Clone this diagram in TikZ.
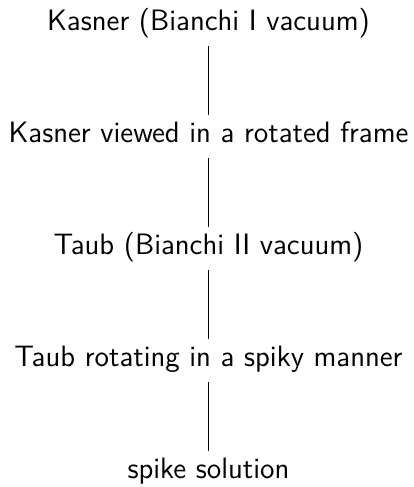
\documentclass[tikz,border=0pt]{standalone}
\begin{document}
\begin{tikzpicture}[x=0.5pt,y=0.5pt,
  lbl/.style={font=\sffamily\fontsize{14.75}{17}\selectfont, inner sep=0pt,
    text height=11pt, text depth=3.7pt, anchor=base},
  link/.style={draw, line width=0.45pt, shorten <=4.3pt, shorten >=2.5pt}]
\useasboundingbox (0,0) rectangle (413,-487);
% five stages, one per row
\node[lbl] (k)  at (208.5,-30)  {Kasner (Bianchi I vacuum)};
\node[lbl] (kr) at (208.5,-142) {Kasner viewed in a rotated frame};
\node[lbl] (t)  at (208.5,-254) {Taub (Bianchi II vacuum)};
\node[lbl] (tr) at (208.5,-366) {Taub rotating in a spiky manner};
\node[lbl] (s)  at (208.5,-478) {spike solution};
% plain vertical links between consecutive stages
\path[link] (k) -- (kr);
\path[link] (kr) -- (t);
\path[link] (t) -- (tr);
\path[link] (tr) -- (s);
\end{tikzpicture}
\end{document}
